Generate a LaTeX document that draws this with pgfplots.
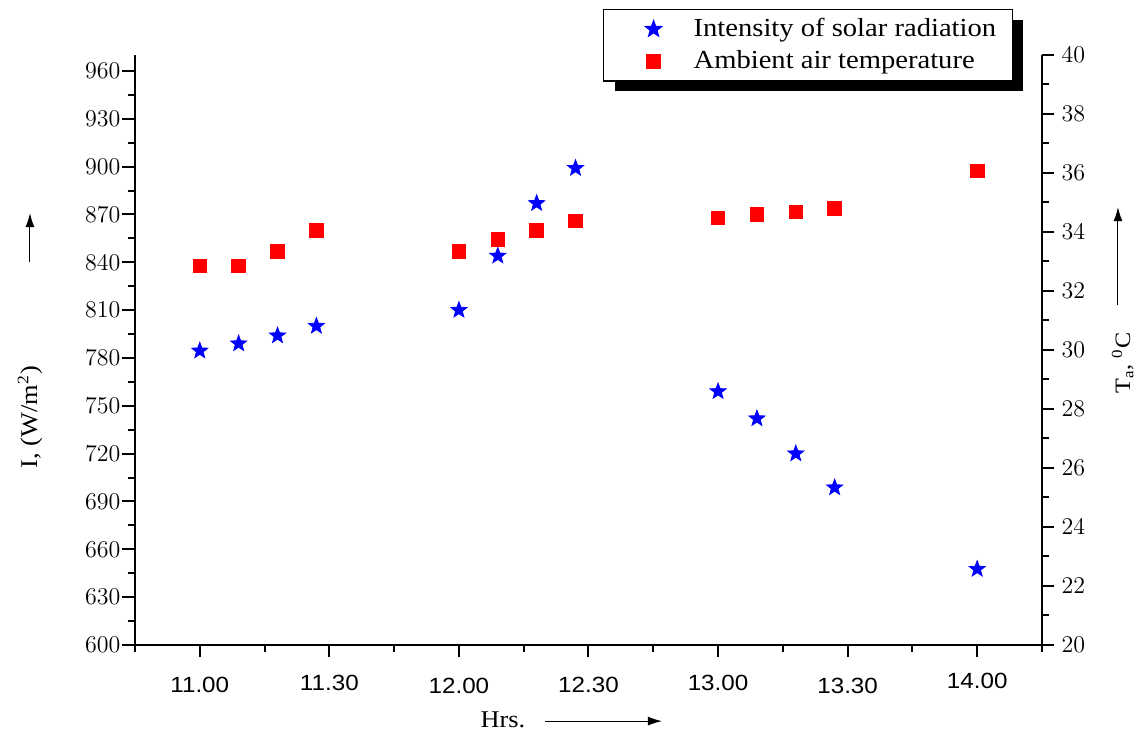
\documentclass[border=0pt]{standalone}
\usepackage{fontspec}
\setmainfont{Liberation Serif}[FakeStretch=1.1]
\newfontfamily\sansf{Liberation Sans}[FakeStretch=1.1]
\usepackage{pgfplots}
\pgfplotsset{compat=1.18}
\usetikzlibrary{shadows,arrows.meta}

\pgfdeclareplotmark{fstar}{%
  \pgfpathmoveto{\pgfpointpolar{90}{\pgfplotmarksize}}%
  \pgfpathlineto{\pgfpointpolar{126}{0.42\pgfplotmarksize}}%
  \pgfpathlineto{\pgfpointpolar{162}{\pgfplotmarksize}}%
  \pgfpathlineto{\pgfpointpolar{198}{0.42\pgfplotmarksize}}%
  \pgfpathlineto{\pgfpointpolar{234}{\pgfplotmarksize}}%
  \pgfpathlineto{\pgfpointpolar{270}{0.42\pgfplotmarksize}}%
  \pgfpathlineto{\pgfpointpolar{306}{\pgfplotmarksize}}%
  \pgfpathlineto{\pgfpointpolar{342}{0.42\pgfplotmarksize}}%
  \pgfpathlineto{\pgfpointpolar{18}{\pgfplotmarksize}}%
  \pgfpathlineto{\pgfpointpolar{54}{0.42\pgfplotmarksize}}%
  \pgfpathclose
  \pgfusepathqfillstroke
}

\pgfplotstableread{
x I
0   784.5
0.3 789
0.6 794
0.9 800
2   810
2.3 844
2.6 877
2.9 899
4   759
4.3 742
4.6 720
4.9 698.7
6   647.6
}\Idata

\pgfplotstableread{
x T
0   32.85
0.3 32.85
0.6 33.35
0.9 34.06
2   33.35
2.3 33.75
2.6 34.06
2.9 34.37
4   34.48
4.3 34.59
4.6 34.68
4.9 34.79
6   36.07
}\Tdata

\pgfplotsset{
  common/.style={
    scale only axis, width=453.5pt, height=295pt,
    at={(0,0)}, anchor=south west,
    xmin=-0.5, xmax=6.5,
    tick align=outside,
    major tick length=6.25pt, minor tick length=3.5pt,
    axis line style={line width=1pt,-},
    every tick/.style={black, line width=1pt},
    clip=false,
  },
  legimg/.style={legend image code/.code={\pgfpathrectangle{\pgfpoint{0pt}{-1pt}}{\pgfpoint{37pt}{2pt}}\pgfusepath{}\draw[##1, only marks] plot coordinates {(19pt,0pt)};}},
}
\tikzset{myarrow/.style={line width=0.5pt, -{Latex[length=7pt,width=4.5pt]}}}

\begin{document}
\begin{tikzpicture}
\useasboundingbox (-67.5pt,-43pt) rectangle (506.5pt,322.5pt);
\begin{axis}[common,
  ymin=600, ymax=970,
  axis x line*=bottom, axis y line*=left,
  xtick={0,1,2,3,4,5,6},
  xticklabels={\raisebox{0.4pt}{11.00},\raisebox{1.6pt}{11.30},\raisebox{0pt}{12.00},\raisebox{0.7pt}{12.30},\raisebox{1.25pt}{13.00},\raisebox{0pt}{13.30},\raisebox{2.3pt}{14.00}},
  minor xtick={-0.5,0.5,1.5,2.5,3.5,4.5,5.5,6.5},
  ytick={600,630,...,960},
  minor ytick={615,645,...,945},
  x tick label style={font=\sansf\fontsize{11}{13}\selectfont, anchor=base, yshift=-18pt},
  y tick label style={font=\fontsize{12}{14}\selectfont, xshift=2.5pt},
  ylabel={I, (W/m\textsuperscript{2})},
  every axis y label/.style={at={(axis description cs:-0.1158,0.386)}, rotate=90, anchor=center, font=\fontsize{12}{14}\selectfont},
  xlabel={Hrs.},
  every axis x label/.style={at={(axis description cs:0.4057,-0.127)}, anchor=center, font=\fontsize{12}{14}\selectfont},
]
\addplot[only marks, mark=fstar, mark size=4.2pt, blue, draw=blue, fill=blue] table[x=x,y=I] {\Idata};
\draw[myarrow] (axis description cs:-0.1158,0.649) -- (axis description cs:-0.1158,0.732);
\draw[myarrow] (axis description cs:0.452,-0.129) -- (axis description cs:0.581,-0.129);
\end{axis}
\begin{axis}[common,
  ymin=20, ymax=40,
  axis y line*=right, axis x line=none,
  ytick={20,22,...,40},
  minor ytick={21,23,...,39},
  y tick label style={font=\fontsize{12}{14}\selectfont},
  ylabel={T\textsubscript{a}, \textsuperscript{0}C},
  every axis y label/.style={at={(axis description cs:1.089,0.478)}, rotate=90, anchor=center, font=\fontsize{11}{13}\selectfont},
  legend style={at={(axis description cs:0.516,1.078)}, anchor=north west,
    draw=black, line width=0.6pt, fill=white,
    drop shadow={shadow xshift=5.5pt, shadow yshift=-5pt, fill=black, opacity=1},
    font=\fontsize{13}{15}\selectfont, inner xsep=6pt, inner ysep=2.5pt, row sep=1.5pt, column sep=0pt},
  legend cell align=left,
]
\addlegendimage{only marks, mark=fstar, mark size=4.2pt, blue, draw=blue, fill=blue, legimg}
\addlegendentry{Intensity of solar radiation}
\addplot[only marks, mark=square*, mark size=3.4pt, red, draw=red, fill=red, legimg] table[x=x,y=T] {\Tdata};
\addlegendentry{Ambient air temperature}
\draw[myarrow] (axis description cs:1.0838,0.576) -- (axis description cs:1.0838,0.742);
\end{axis}
\end{tikzpicture}
\end{document}
